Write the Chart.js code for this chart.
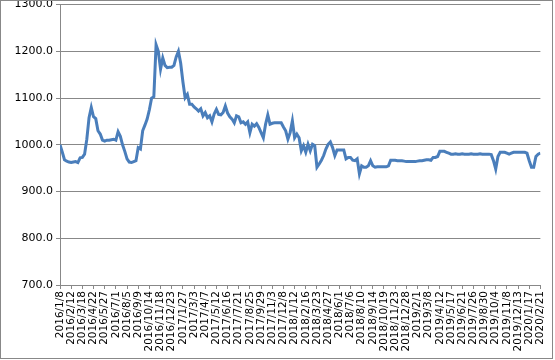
<!DOCTYPE html>
<html>
<head>
<meta charset="utf-8">
<script src="https://cdn.jsdelivr.net/npm/chart.js@4/dist/chart.umd.min.js"></script>
<style>
html,body{margin:0;padding:0;background:#fff;}
#wrap{position:relative;width:555px;height:360px;overflow:hidden;}
#c{position:absolute;left:0;top:-5px;}
</style>
</head>
<body>
<div id="wrap"><canvas id="c" width="555" height="365"></canvas></div>
<script>
const tickLabels = ["2016/1/8","2016/2/12","2016/3/18","2016/4/22","2016/5/27","2016/7/1","2016/8/5","2016/9/9","2016/10/14","2016/11/18","2016/12/23","2017/1/27","2017/3/3","2017/4/7","2017/5/12","2017/6/16","2017/7/21","2017/8/25","2017/9/29","2017/11/3","2017/12/8","2018/1/12","2018/2/16","2018/3/23","2018/4/27","2018/6/1","2018/7/6","2018/8/10","2018/9/14","2018/10/19","2018/11/23","2018/12/28","2019/2/1","2019/3/8","2019/4/12","2019/5/17","2019/6/21","2019/7/26","2019/8/30","2019/10/4","2019/11/8","2019/12/13","2020/1/17","2020/2/21"];

const values = [
1000,985,968,965,963,962,963,964,962,972,
973,980,1012,1058,1080,1060,1056,1030,1023,1010,
1008,1010,1010,1011,1012,1010,1028,1018,1000,986,
970,963,962,964,966,994,991,1030,1042,1055,
1075,1100,1103,1214,1200,1162,1186,1170,1165,1166,
1166,1170,1188,1200,1175,1135,1101,1108,1087,1087,
1081,1077,1072,1077,1062,1069,1058,1062,1049,1066,
1076,1065,1064,1069,1083,1068,1060,1055,1047,1062,
1060,1047,1049,1044,1049,1026,1044,1040,1045,1037,
1026,1015,1044,1064,1044,1046,1047,1047,1047,1047,
1038,1030,1012,1026,1051,1015,1023,1015,987,998,
984,1001,987,1001,998,952,959,967,977,991,
1001,1006,994,977,989,989,989,989,970,973,
973,967,966,970,938,955,952,952,955,966,
955,952,953,953,953,953,953,955,967,967,
967,966,966,966,965,964,964,964,964,964,
965,966,966,967,968,968,967,973,973,975,
986,986,986,984,982,980,980,981,980,980,
981,980,980,980,981,980,980,980,981,980,
980,980,980,979,966,948,975,984,984,984,
982,980,982,984,984,984,984,984,984,982,
966,952,952,975,980,982
];

const points = values.map((v, i) => ({x: i, y: v}));

const borderPlugin = {
  id: 'outerBorder',
  afterDraw(chart) {
    const ctx = chart.ctx;
    ctx.save();
    ctx.strokeStyle = '#888888';
    ctx.lineWidth = 1;
    ctx.strokeRect(0.5, 5.5, 552, 358);
    ctx.restore();
  }
};

new Chart(document.getElementById('c'), {
  type: 'line',
  data: {
    datasets: [{
      data: points,
      borderColor: '#4a7ebb',
      borderWidth: 3,
      pointRadius: 0,
      tension: 0,
      fill: false
    }]
  },
  options: {
    responsive: false,
    animation: false,
    events: [],
    layout: {padding: {left: 0, right: 12, top: 3, bottom: 0}},
    plugins: {legend: {display: false}, tooltip: {enabled: false}},
    scales: {
      x: {
        type: 'linear',
        min: 0,
        max: 215,
        afterFit(s) { s.height = 75; },
        border: {color: '#888888', width: 1},
        grid: {drawOnChartArea: false, drawTicks: true, tickLength: 4, color: '#888888'},
        ticks: {
          stepSize: 5,
          autoSkip: false,
          maxRotation: 90,
          minRotation: 90,
          padding: 2,
          color: '#000000',
          font: {family: 'DejaVu Sans', size: 10.5},
          callback: (v) => tickLabels[Math.round(v / 5)]
        }
      },
      y: {
        min: 700,
        max: 1300,
        afterFit(s) { s.width = 60; },
        border: {color: '#888888', width: 1},
        grid: {color: '#888888', lineWidth: 1, tickLength: 4},
        ticks: {
          stepSize: 100,
          padding: 3,
          color: '#000000',
          font: {family: 'DejaVu Sans', size: 11},
          callback: (v) => v.toFixed(1)
        }
      }
    }
  },
  plugins: [borderPlugin]
});
</script>
</body>
</html>
